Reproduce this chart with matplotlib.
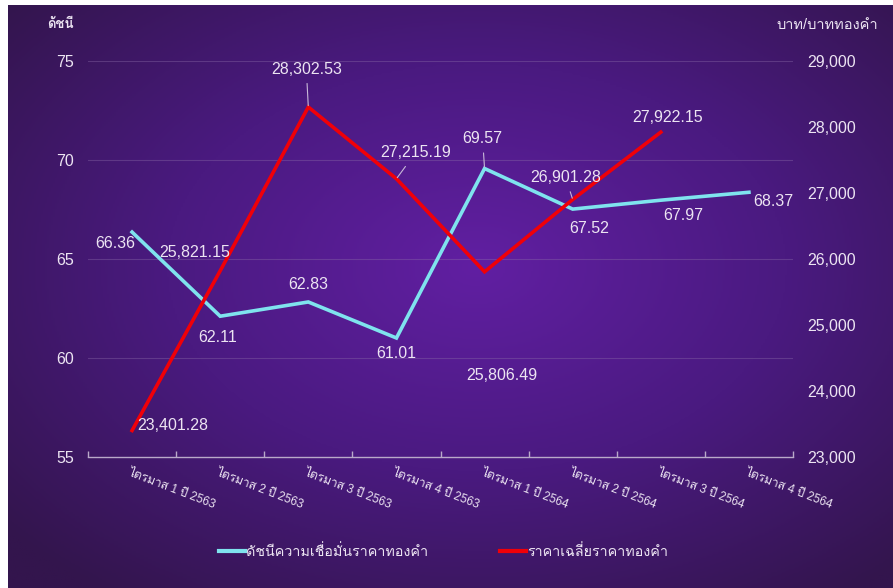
import numpy as np
import matplotlib
matplotlib.use('Agg')
import matplotlib.pyplot as plt
from matplotlib import font_manager
from matplotlib.lines import Line2D
from matplotlib.colors import LinearSegmentedColormap

# data
quarters = ['ไตรมาส 1 ปี 2563', 'ไตรมาส 2 ปี 2563', 'ไตรมาส 3 ปี 2563', 'ไตรมาส 4 ปี 2563',
            'ไตรมาส 1 ปี 2564', 'ไตรมาส 2 ปี 2564', 'ไตรมาส 3 ปี 2564', 'ไตรมาส 4 ปี 2564']
index_vals = [66.36, 62.11, 62.83, 61.01, 69.57, 67.52, 67.97, 68.37]
price_vals = [23401.28, 25821.15, 28302.53, 27215.19, 25806.49, 26901.28, 27922.15]
left_ticks = [55, 60, 65, 70, 75]
right_ticks = [23000, 24000, 25000, 26000, 27000, 28000, 29000]
index_name = 'ดัชนีความเชื่อมั่นราคาทองคำ'
price_name = 'ราคาเฉลี่ยราคาทองคำ'
left_unit = 'ดัชนี'
right_unit = 'บาท/บาททองคำ'

# label offsets in pixels (dx, dy), and whether a leader line is drawn
index_offsets = [(-17, -11), (-3, -21), (0, 17), (0, -15), (-2, 30), (16, -19), (22, -15), (24, -9)]
index_leader = [False, False, False, False, True, False, False, False]
price_offsets = [(41, 5), (-25, 18), (-2, 38), (19, 26), (17, -104), (-7, 22), (7, 15)]
price_leader = [False, False, True, True, False, True, False]


def find_thai_font():
    try:
        from fontTools.ttLib import TTFont
    except Exception:
        return 'DejaVu Sans'
    found = []
    for f in font_manager.fontManager.ttflist:
        try:
            tt = TTFont(f.fname, fontNumber=0, lazy=True)
            cmap = tt.getBestCmap()
            if cmap and 0x0E14 in cmap and 0x0E44 in cmap:
                found.append(f)
        except Exception:
            pass
    if not found:
        return 'DejaVu Sans'
    found.sort(key=lambda f: (f.weight != 'normal' and f.weight != 400, f.style != 'normal'))
    return found[0].name


thai = find_thai_font()
fam = ['Liberation Sans', thai, 'DejaVu Sans']
plt.rcParams['font.family'] = fam

txt = '#ece4f2'
W, H = 893, 588
fig = plt.figure(figsize=(W / 100, H / 100), dpi=100)
fig.patch.set_facecolor('white')

# radial purple background
bg = fig.add_axes([8 / W, 0, 1 - 8 / W, 1 - 5 / H], zorder=-5)
yy, xx = np.mgrid[0:1:300j, 0:1:450j]
d = np.sqrt(((xx - 0.53) / 0.7) ** 2 + ((yy - 0.45) / 0.7) ** 2)
cmap = LinearSegmentedColormap.from_list('bgp', ['#611fa2', '#4a1a80', '#33154d'])
bg.imshow(np.clip(d, 0, 1), cmap=cmap, aspect='auto', extent=[0, 1, 0, 1], vmin=0, vmax=1)
bg.axis('off')

ax = fig.add_axes([88 / W, (H - 457) / H, (793 - 88) / W, (457 - 61) / H])
ax.set_facecolor('none')
ax2 = ax.twinx()

x = np.arange(len(quarters))
ax.plot(x, index_vals, color='#7fe3ee', lw=2.6, solid_joinstyle='miter', zorder=3)
ax2.plot(x[:len(price_vals)], price_vals, color='#f00008', lw=2.6, solid_joinstyle='miter', zorder=3)

ax.set_xlim(-0.5, len(quarters) - 0.5)
ax.set_ylim(55, 75)
ax2.set_ylim(23000, 29000)
ax.set_yticks(left_ticks)
ax2.set_yticks(right_ticks)
ax2.set_yticklabels([f'{v:,}' for v in right_ticks])

for v in left_ticks[1:]:
    ax.axhline(v, color='#8a6aa8', lw=0.8, alpha=0.4, zorder=1)

for a in (ax, ax2):
    for s in a.spines.values():
        s.set_visible(False)
ax.spines['bottom'].set_visible(True)
ax.spines['bottom'].set_color('#b9a9c9')
ax.spines['bottom'].set_linewidth(1.0)

ax.tick_params(axis='y', length=0, pad=10, labelsize=11.5, labelcolor=txt)
ax2.tick_params(axis='y', length=0, pad=10, labelsize=11.5, labelcolor=txt)
ax.set_xticks(np.arange(len(quarters) + 1) - 0.5, minor=False)
ax.set_xticklabels([])
ax.tick_params(axis='x', direction='in', length=4, color='#b9a9c9', width=1.0)
for i, q in enumerate(quarters):
    ax.annotate(q, xy=(i, 55), xycoords='data', xytext=(-1, -10), textcoords='offset pixels',
                rotation=-21, ha='left', va='top', rotation_mode='anchor',
                fontsize=8.6, color=txt, annotation_clip=False)

fig.text(60 / W, 1 - 25 / H, left_unit, ha='center', va='center', fontsize=9.5, color=txt, fontweight='bold')
fig.text(827 / W, 1 - 25 / H, right_unit, ha='center', va='center', fontsize=10.5, color=txt)


def label(a, xi, yi, text, off, leader):
    props = None
    if leader:
        props = dict(arrowstyle='-', color='#c8b8d8', lw=0.8, shrinkA=3, shrinkB=1)
    a.annotate(text, xy=(xi, yi), xytext=off, textcoords='offset pixels',
               ha='center', va='center', fontsize=11.5, color=txt,
               arrowprops=props, zorder=5)


for i, v in enumerate(index_vals):
    label(ax, i, v, f'{v:.2f}', index_offsets[i], index_leader[i])
for i, v in enumerate(price_vals):
    label(ax2, i, v, f'{v:,.2f}', price_offsets[i], price_leader[i])

handles = [Line2D([], [], color='#7fe3ee', lw=3), Line2D([], [], color='#f00008', lw=3)]
fig.legend(handles, [index_name, price_name], loc='center', bbox_to_anchor=(0.497, 1 - 552 / H),
           ncol=2, frameon=False, fontsize=10.3, labelcolor=txt, handlelength=1.8,
           handletextpad=0.1, columnspacing=5.0)

fig.savefig('out.png', dpi=100)
